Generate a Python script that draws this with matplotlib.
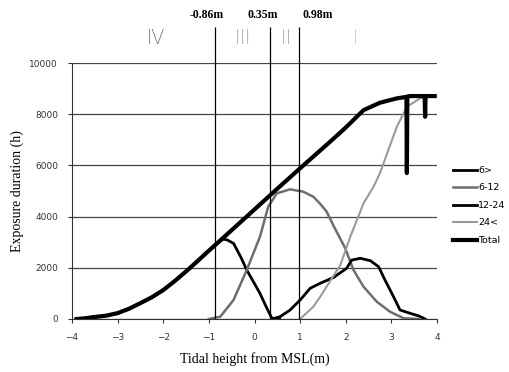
import matplotlib.pyplot as plt
import numpy as np

# tidal height (m) and exposure duration (h) for each class
total_x = [-3.9, -3.75, -3.5, -3.25, -3, -2.75, -2.5, -2.25, -2, -1.75, -1.5, -1.25, -1,
           -0.69, 0, 0.5, 1, 1.66, 2, 2.39, 2.75, 3.12, 3.33, 3.34, 3.35, 3.41, 3.73, 3.74,
           3.75, 3.95]
total_y = [0, 20, 80, 130, 230, 400, 620, 850, 1130, 1480, 1860, 2260, 2670,
           3165, 4280, 5090, 5890, 6930, 7480, 8160, 8450, 8620, 8680, 5700, 8690, 8710,
           8710, 7900, 8710, 8710]

lt6_x = [-3.9, -3.75, -3.5, -3.25, -3, -2.75, -2.5, -2.25, -2, -1.75, -1.5, -1.25, -1,
         -0.8, -0.69, -0.6, -0.46, -0.3, -0.17, 0, 0.12, 0.25, 0.38, 0.55]
lt6_y = [0, 20, 80, 130, 230, 400, 620, 850, 1130, 1480, 1860, 2260, 2670,
         2980, 3120, 3090, 2955, 2420, 1914, 1380, 1000, 500, 30, 0]

h6_12_x = [-1.0, -0.75, -0.46, -0.17, 0.12, 0.3, 0.49, 0.78, 1.07, 1.29, 1.44, 1.58, 1.73,
           1.99, 2.17, 2.39, 2.68, 2.97, 3.27, 3.6]
h6_12_y = [0, 90, 740, 1914, 3215, 4387, 4910, 5066, 4973, 4777, 4500, 4200, 3650,
           2760, 1914, 1262, 676, 285, 27, 0]

h12_24_x = [0.38, 0.56, 0.78, 1.0, 1.22, 1.44, 1.73, 2.02, 2.13, 2.32, 2.54, 2.72, 2.86,
            3.01, 3.19, 3.41, 3.6, 3.74]
h12_24_y = [0, 90, 350, 740, 1200, 1395, 1620, 1980, 2300, 2371, 2277, 2043, 1523,
            1004, 352, 223, 120, 0]

gt24_x = [1.0, 1.29, 1.44, 1.58, 1.88, 2.1, 2.39, 2.61, 2.75, 3.12, 3.34, 3.63, 3.85]
gt24_y = [0, 480, 870, 1262, 2100, 3215, 4520, 5168, 5700, 7512, 8293, 8621, 8710]

zone_edges = [-0.86, 0.35, 0.98]
zone_edge_labels = ['-0.86m', '0.35m', '0.98m']
zone_names = ['IV', 'III', 'II', 'I']

fig = plt.figure(figsize=(5.09, 3.72), dpi=100)
ax = fig.add_axes([0.1415, 0.1425, 0.717, 0.688])

ax.plot(lt6_x, lt6_y, color='black', lw=2.0, label='6>')
ax.plot(h6_12_x, h6_12_y, color='#6e6e6e', lw=1.8, label='6-12')
ax.plot(h12_24_x, h12_24_y, color='black', lw=2.0, label='12-24')
ax.plot(gt24_x, gt24_y, color='#9a9a9a', lw=1.5, label='24<')
ax.plot(total_x, total_y, color='black', lw=3.0, label='Total')

ax.set_xlim(-4, 4)
ax.set_ylim(0, 10000)
ax.set_xticks(np.arange(-4, 5, 1))
ax.set_yticks(np.arange(0, 10001, 2000))
ax.yaxis.grid(True, color='#444444', lw=0.9)
ax.set_axisbelow(True)
for s in ['top', 'right']:
    ax.spines[s].set_visible(False)
ax.spines['left'].set_color('#333333')
ax.spines['bottom'].set_color('#333333')
ax.tick_params(labelsize=6.5, length=3, pad=7, colors='#333333')

ax.set_xlabel('Tidal height from MSL(m)', family='Liberation Serif', fontsize=10, labelpad=7)
ax.set_ylabel('Exposure duration (h)', family='Liberation Serif', fontsize=10, labelpad=4)

# zone boundaries and labels above the plot
ax.vlines(zone_edges, 0, 11400, colors='black', lw=0.9, clip_on=False)
for xe, lab, xo in zip(zone_edges, zone_edge_labels, [-0.18, -0.16, 0.41]):
    ax.text(xe + xo, 11870, lab, ha='center', va='center', fontsize=8.5,
            fontweight='bold', family='Liberation Serif')
for name, xp, col in zip(zone_names, [-2.18, -0.25, 0.69, 2.2],
                         ['#333333', '#777777', '#777777', '#aaaaaa']):
    ax.text(xp, 10950, name, ha='center', va='center', fontsize=15, color=col,
            fontweight='light', family=['Roboto', 'DejaVu Sans'])

fig.legend(loc='upper left', bbox_to_anchor=(0.889, 0.554), frameon=False,
           fontsize=6.8, handlelength=2.6, handletextpad=0.1, labelspacing=0.9,
           borderpad=0, borderaxespad=0)

fig.savefig('out.png', dpi=100)
